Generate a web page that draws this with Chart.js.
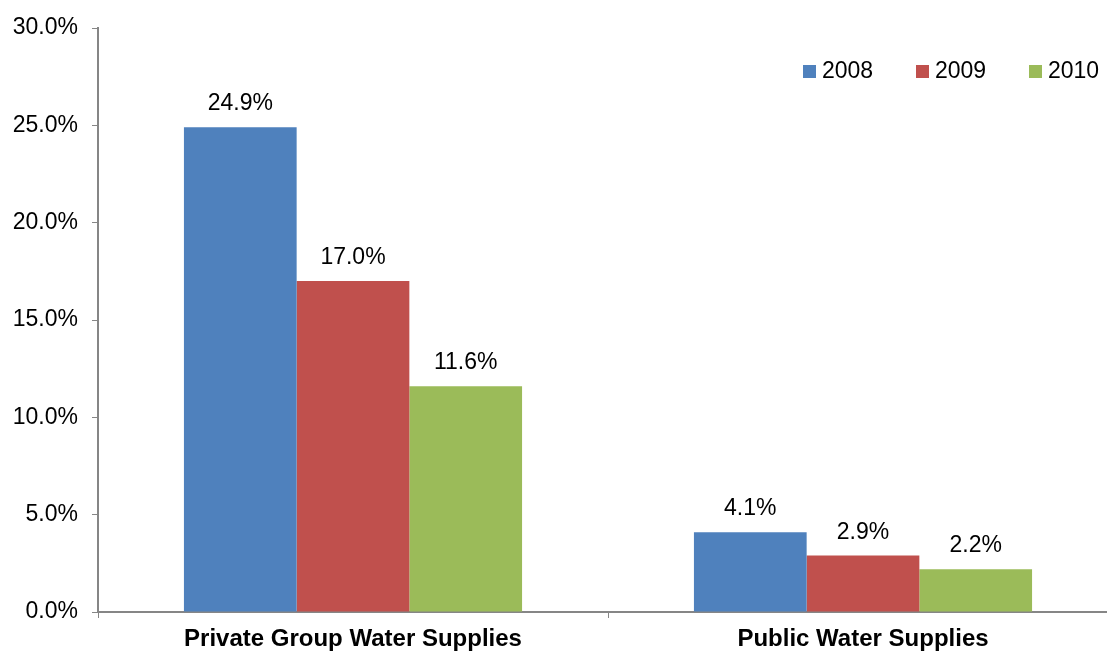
<!DOCTYPE html>
<html>
<head>
<meta charset="utf-8">
<script src="https://cdn.jsdelivr.net/npm/chart.js@4/dist/chart.umd.min.js"></script>
<style>
  html, body { margin: 0; padding: 0; background: #fff; overflow: hidden; }
  #wrap { position: relative; width: 1120px; height: 651px; }
</style>
</head>
<body>
<div id="wrap"><canvas id="waterChart"></canvas></div>
<script>
/* water supply failure rates by year */
const categories = ['Private Group Water Supplies', 'Public Water Supplies'];
const years = ['2008', '2009', '2010'];
const values2008 = [24.9, 4.1];
const values2009 = [17.0, 2.9];
const values2010 = [11.6, 2.2];
const yTicks = [0, 5, 10, 15, 20, 25, 30];

const colors = ['#4F81BD', '#C0504D', '#9BBB59'];
const axisGray = '#868686';
const FONT = "'Liberation Sans', Arial, sans-serif";

// value labels above each bar
const barLabels = {
  id: 'barLabels',
  afterDatasetsDraw(chart) {
    const ctx = chart.ctx;
    ctx.save();
    ctx.font = '23px ' + FONT;
    ctx.fillStyle = '#000';
    ctx.textAlign = 'center';
    ctx.textBaseline = 'alphabetic';
    chart.data.datasets.forEach((ds, i) => {
      chart.getDatasetMeta(i).data.forEach((bar, j) => {
        ctx.fillText(ds.data[j].toFixed(1) + '%', bar.x, bar.y - 17);
      });
    });
    ctx.restore();
  }
};

// legend drawn inside the plot, top right
const insideLegend = {
  id: 'insideLegend',
  afterDraw(chart) {
    const ctx = chart.ctx;
    ctx.save();
    ctx.font = '23px ' + FONT;
    ctx.textBaseline = 'middle';
    const y = 71;
    let x = 803;
    chart.data.datasets.forEach(ds => {
      ctx.fillStyle = ds.backgroundColor;
      ctx.fillRect(x, y - 6, 13, 13);
      ctx.fillStyle = '#000';
      ctx.fillText(ds.label, x + 19, y + 1);
      x += 113;
    });
    ctx.restore();
  }
};

new Chart(document.getElementById('waterChart'), {
  type: 'bar',
  data: {
    labels: categories,
    datasets: [
      { label: years[0], data: values2008, backgroundColor: colors[0] },
      { label: years[1], data: values2009, backgroundColor: colors[1] },
      { label: years[2], data: values2010, backgroundColor: colors[2] }
    ]
  },
  options: {
    responsive: true,
    maintainAspectRatio: false,
    animation: false,
    layout: { padding: { top: 28, right: 2, left: 0, bottom: 0 } },
    datasets: { bar: { categoryPercentage: 0.663, barPercentage: 1.0 } },
    plugins: {
      legend: { display: false },
      tooltip: { enabled: false }
    },
    scales: {
      x: {
        grid: {
          offset: true,
          drawOnChartArea: false,
          drawTicks: true,
          tickLength: 6,
          color: axisGray
        },
        border: { color: axisGray, width: 2 },
        ticks: {
          color: '#000',
          padding: 7,
          maxRotation: 0,
          font: { family: FONT, size: 24, weight: 'bold' }
        },
        afterFit(scale) { scale.height = 39; }
      },
      y: {
        min: 0,
        max: 30,
        afterBuildTicks(scale) { scale.ticks = yTicks.map(v => ({ value: v })); },
        grid: {
          drawOnChartArea: false,
          drawTicks: true,
          tickLength: 6,
          color: axisGray
        },
        border: { color: axisGray, width: 2 },
        ticks: {
          color: '#000',
          padding: 14,
          font: { family: FONT, size: 23 },
          callback: v => v.toFixed(1) + '%'
        },
        afterFit(scale) { scale.width = 98; }
      }
    }
  },
  plugins: [barLabels, insideLegend]
});
</script>
</body>
</html>
